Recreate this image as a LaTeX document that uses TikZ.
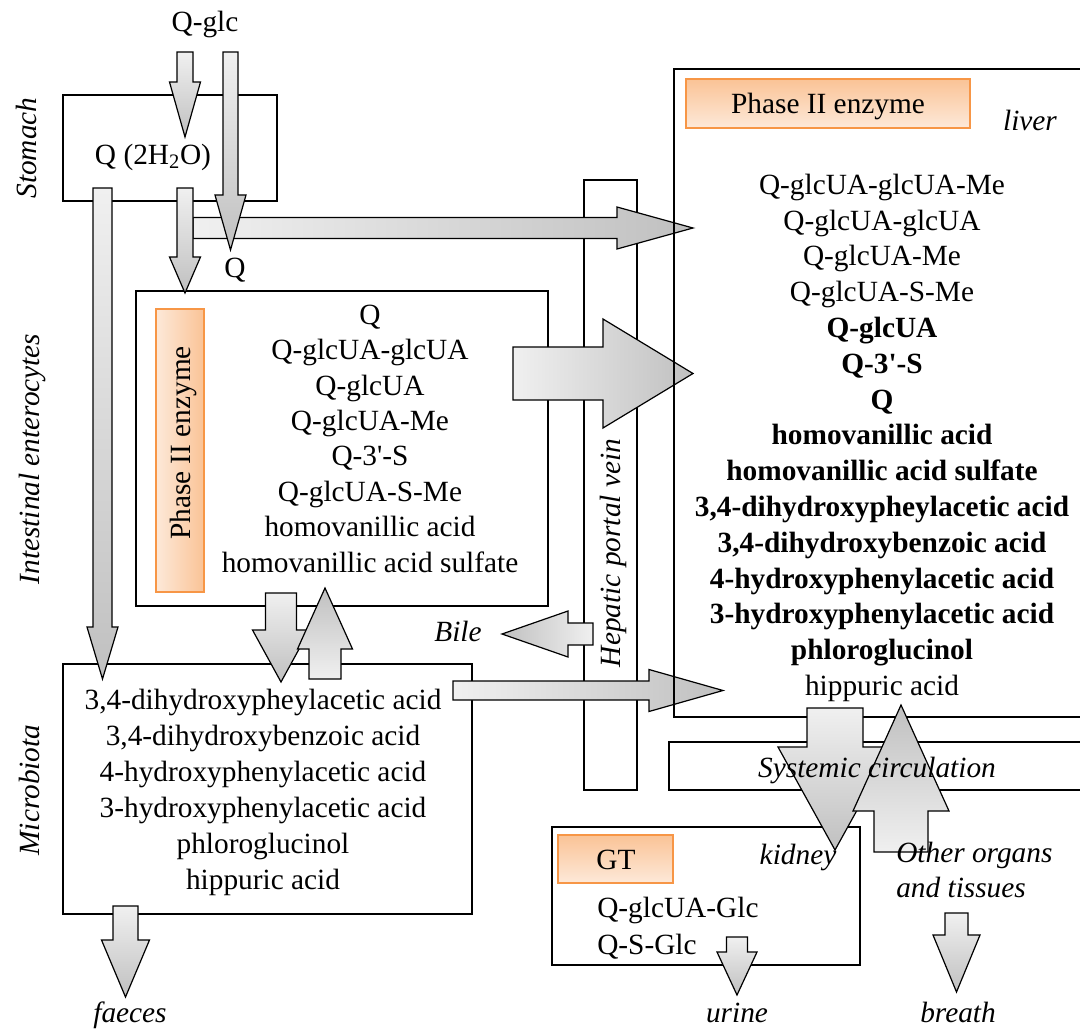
\documentclass[tikz,border=0pt]{standalone}
\usepackage{fontspec}
\setmainfont{Liberation Serif}
\definecolor{alight}{RGB}{240,240,240}
\definecolor{adark}{RGB}{192,192,192}
\definecolor{otop}{RGB}{250,195,150}
\definecolor{obot}{RGB}{253,233,217}
\definecolor{oborder}{RGB}{247,150,70}
\newcommand{\darr}[6]{\draw[arr, top color=alight, bottom color=adark] ({#1-#4},#2) -- ({#1+#4},#2) -- ({#1+#4},#6) -- ({#1+#5},#6) -- (#1,#3) -- ({#1-#5},#6) -- ({#1-#4},#6) -- cycle;}
\newcommand{\uarr}[6]{\draw[arr, top color=adark, bottom color=alight] ({#1-#4},#2) -- ({#1+#4},#2) -- ({#1+#4},#6) -- ({#1+#5},#6) -- (#1,#3) -- ({#1-#5},#6) -- ({#1-#4},#6) -- cycle;}
\newcommand{\rarr}[6]{\draw[arr, left color=alight, right color=adark] (#2,{#1-#4}) -- (#6,{#1-#4}) -- (#6,{#1-#5}) -- (#3,#1) -- (#6,{#1+#5}) -- (#6,{#1+#4}) -- (#2,{#1+#4}) -- cycle;}
\newcommand{\larr}[6]{\draw[arr, left color=adark, right color=alight] (#2,{#1-#4}) -- (#6,{#1-#4}) -- (#6,{#1-#5}) -- (#3,#1) -- (#6,{#1+#5}) -- (#6,{#1+#4}) -- (#2,{#1+#4}) -- cycle;}
\begin{document}
\begin{tikzpicture}[x=0.75pt,y=-0.75pt,
  box/.style={draw=black, line width=1.8pt},
  arr/.style={draw=black, line width=0.9pt, line join=miter},
  txt/.style={font=\fontsize{22}{26}\selectfont, inner sep=0pt, text height=0.7em, text depth=0.2em, yshift=-4.5pt},
  it/.style={txt, font=\fontsize{22}{26}\selectfont\itshape},
  bt/.style={txt, font=\fontsize{22}{26}\selectfont\bfseries},
  rtxt/.style={font=\fontsize{22}{26}\selectfont, inner sep=0pt, text height=0.7em, text depth=0.2em, xshift=4.5pt},
  rit/.style={rtxt, font=\fontsize{22}{26}\selectfont\itshape},
  orngh/.style={draw=oborder, line width=0.9pt, top color=otop, bottom color=obot},
  orngv/.style={draw=oborder, line width=0.9pt, left color=obot, right color=otop}]
\useasboundingbox (0,0) rectangle (1080,1030);
\fill[white] (0,0) rectangle (1080,1030);
% boxes
\draw[box] (63,95) rectangle (277,201);
\draw[box] (136,291) rectangle (548,606);
\draw[box] (63,664) rectangle (472,914);
\draw[box] (584,180) rectangle (637,790);
\draw[box] (669,742) rectangle (1095,790);
\draw[box] (552,827) rectangle (860,965);
% enzyme boxes
\path[orngv] (156,309) rectangle (204,592);
\node[rtxt, rotate=90] (ph2i) at (181,443) {Phase II enzyme};
\path[orngh] (686,79) rectangle (970,128);
\node[txt] (ph2l) at (828,104) {Phase II enzyme};
\path[orngh] (558,835) rectangle (673,883);
\node[txt] (gt) at (616,860) {GT};
% horizontal arrows
\rarr{228}{193}{693}{10.5}{21}{617}
\rarr{373.5}{513}{693}{26.5}{54.5}{603}
\rarr{690.5}{453}{723}{9.5}{21}{649}
\larr{634}{593}{502}{11}{23}{568}
% liver box
\draw[box] (674,69) rectangle (1095,717);
% vertical arrows
\darr{185}{52}{137}{8}{15.5}{82}
\darr{185}{188}{293}{8}{15.5}{257}
\darr{230.5}{52}{250}{7.5}{15.5}{195}
\darr{102.5}{188}{679}{9.5}{15.5}{627}
\darr{281}{593}{682}{15.5}{28.5}{630}
\uarr{325}{679}{588}{16}{27.5}{649}
\darr{835}{708}{850}{28}{57}{747}
\uarr{901}{852}{705}{27}{48}{811}
\darr{737}{937}{995}{10.5}{20}{952}
\darr{956.5}{913}{992}{11.5}{23.5}{935}
\darr{125.5}{906}{997}{12.5}{24}{940}
% labels
\node[txt] (qglc) at (205,22) {Q-glc};
\node[txt] (q2h2o) at (153,155) {Q (2H\textsubscript{2}O)};
\node[txt] (qlab) at (235,268) {Q};
\node[rit, rotate=90] (stomach) at (27,148) {Stomach};
\node[rit, rotate=90] (intest) at (30,459) {Intestinal enterocytes};
\node[rit, rotate=90] (micro) at (30,790) {Microbiota};
\node[rit, rotate=90] (hpv) at (611,553) {Hepatic portal vein};
\node[it] (bile) at (458,632) {Bile};
\node[it] (liver) at (1030,121) {liver};
\node[it] (sysc) at (877,768) {Systemic circulation};
\node[it] (kidney) at (798,855) {kidney};
\node[it, anchor=west] (other1) at (896,853) {Other organs};
\node[it, anchor=west] (other2) at (896,888) {and tissues};
\node[it] (faeces) at (130,1013) {faeces};
\node[it] (urine) at (737,1013) {urine};
\node[it] (breath) at (958,1013) {breath};
% intestinal list
\node[txt] (i1) at (370,315) {Q};
\node[txt] (i2) at (370,350.4) {Q-glcUA-glcUA};
\node[txt] (i3) at (370,385.8) {Q-glcUA};
\node[txt] (i4) at (370,421.2) {Q-glcUA-Me};
\node[txt] (i5) at (370,456.6) {Q-3\textquotesingle-S};
\node[txt] (i6) at (370,492) {Q-glcUA-S-Me};
\node[txt] (i7) at (370,527.4) {homovanillic acid};
\node[txt] (i8) at (370,562.8) {homovanillic acid sulfate};
% liver list
\node[txt] (l1) at (882,185) {Q-glcUA-glcUA-Me};
\node[txt] (l2) at (882,220.8) {Q-glcUA-glcUA};
\node[txt] (l3) at (882,256.6) {Q-glcUA-Me};
\node[txt] (l4) at (882,292.4) {Q-glcUA-S-Me};
\node[bt] (l5) at (882,328.2) {Q-glcUA};
\node[bt] (l6) at (882,364) {Q-3\textquotesingle-S};
\node[bt] (l7) at (882,399.8) {Q};
\node[bt] (l8) at (882,435.6) {homovanillic acid};
\node[bt] (l9) at (882,471.4) {homovanillic acid sulfate};
\node[bt] (l10) at (882,507.2) {3,4-dihydroxypheylacetic acid};
\node[bt] (l11) at (882,543) {3,4-dihydroxybenzoic acid};
\node[bt] (l12) at (882,578.8) {4-hydroxyphenylacetic acid};
\node[bt] (l13) at (882,614.6) {3-hydroxyphenylacetic acid};
\node[bt] (l14) at (882,650.4) {phloroglucinol};
\node[txt] (l15) at (882,686.2) {hippuric acid};
% microbiota list
\node[txt] (m1) at (263,700) {3,4-dihydroxypheylacetic acid};
\node[txt] (m2) at (263,736) {3,4-dihydroxybenzoic acid};
\node[txt] (m3) at (263,772) {4-hydroxyphenylacetic acid};
\node[txt] (m4) at (263,808) {3-hydroxyphenylacetic acid};
\node[txt] (m5) at (263,844) {phloroglucinol};
\node[txt] (m6) at (263,880) {hippuric acid};
% kidney list
\node[txt, anchor=west] (k1) at (597,908) {Q-glcUA-Glc};
\node[txt, anchor=west] (k2) at (597,945) {Q-S-Glc};
\end{tikzpicture}
\end{document}
